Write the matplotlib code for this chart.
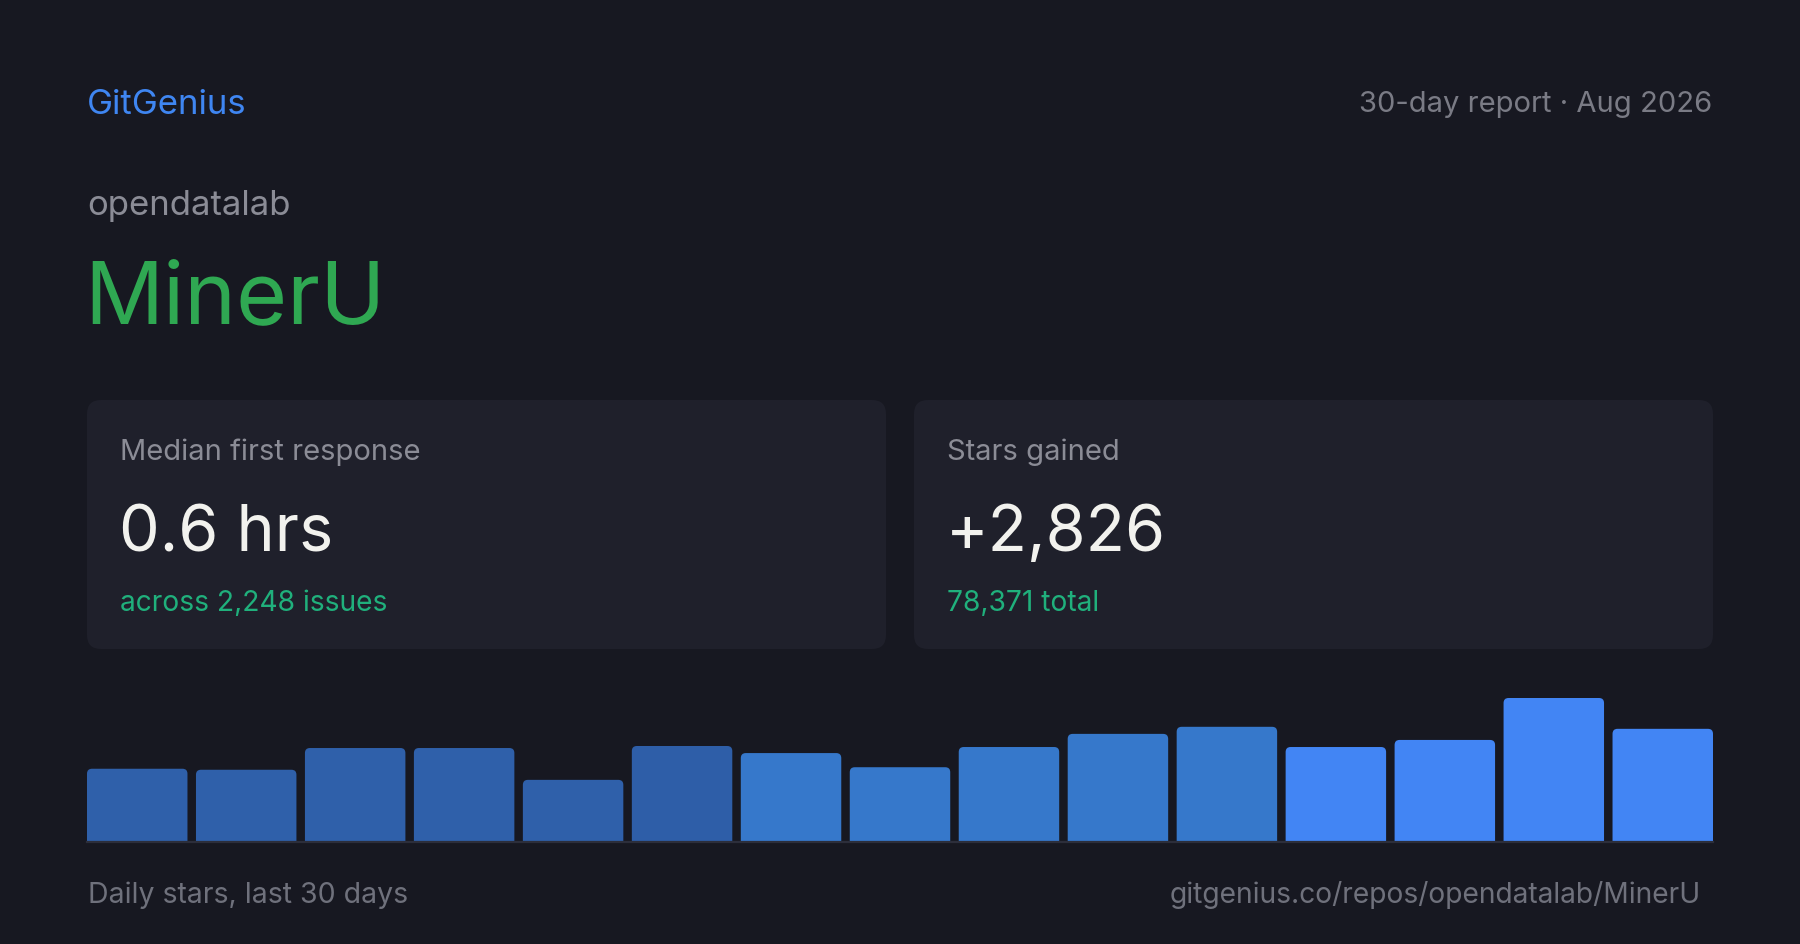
import matplotlib
matplotlib.use("Agg")
import matplotlib.pyplot as plt
from matplotlib.patches import FancyBboxPatch

plt.rcParams['font.family'] = ['Inter', 'DejaVu Sans']

# data
brand = "GitGenius"
report = "30-day report \u00b7 Aug 2026"
owner = "opendatalab"
repo = "MinerU"
card_labels = ["Median first response", "Stars gained"]
card_values = ["0.6 hrs", "+2,826"]
card_notes = ["across 2,248 issues", "78,371 total"]
daily_stars = [145, 143, 186, 186, 123, 190, 176, 148, 188, 214, 228, 188, 202, 285, 224]
bar_tier = [0, 0, 0, 0, 0, 1, 2, 2, 2, 2, 2, 3, 3, 3, 3]
footer_left = "Daily stars, last 30 days"
footer_right = "gitgenius.co/repos/opendatalab/MinerU"

BG = "#171821"
CARD = "#1f202b"
GRAY = "#8b8c96"
DIM = "#6f717c"
GREEN = "#20b07c"
tier_colors = ["#2f60aa", "#2e5ea8", "#3678cb", "#4285f4"]

W, H = 1800, 945
fig = plt.figure(figsize=(18, 9.45), dpi=100, facecolor=BG)

# canvas axes in pixel coordinates
bg = fig.add_axes([0, 0, 1, 1])
bg.set_xlim(0, W)
bg.set_ylim(H, 0)
bg.axis("off")
bg.set_facecolor(BG)

bg.text(87, 114, brand, color="#3f86f2", fontsize=25, va="baseline", ha="left")
bg.text(1712, 112, report, color="#7a7b85", fontsize=21, va="baseline", ha="right")
bg.text(87, 215, owner, color=GRAY, fontsize=25, va="baseline", ha="left")
bg.text(84, 323, repo, color="#2fa852", fontsize=63, va="baseline", ha="left")

card_x = [87, 914]
card_w = 799
for i in range(2):
    x0 = card_x[i]
    bg.add_patch(FancyBboxPatch((x0, 401), card_w, 249,
                                boxstyle="round,pad=0,rounding_size=14",
                                facecolor=CARD, edgecolor="none"))
    bg.text(x0 + 33, 460, card_labels[i], color=GRAY, fontsize=21, va="baseline")
    bg.text(x0 + 32, 551, card_values[i], color="#f2f2ee", fontsize=46.5, va="baseline")
    bg.text(x0 + 33, 611, card_notes[i], color=GREEN, fontsize=20.3, va="baseline")

bg.text(88, 903, footer_left, color=DIM, fontsize=20.5, va="baseline")
bg.text(1701, 903, footer_right, color=DIM, fontsize=20.3, va="baseline", ha="right")

# bar chart
base_px = 843
chart_h = 150
ax = fig.add_axes([87 / W, (H - base_px) / H, (1713 - 87) / W, chart_h / H])
ax.set_facecolor("none")
ax.axis("off")
w = 0.922
n = len(daily_stars)
ymax = max(daily_stars) * chart_h / 144
ax.set_xlim(-w / 2, n - 1 + w / 2)
ax.set_ylim(0, ymax)

bars = ax.bar(range(n), daily_stars, width=w,
              color=[tier_colors[t] for t in bar_tier])
x_unit = (1713 - 87) / (n - 1 + w)
aspect = (ymax / chart_h) * x_unit
r = 5 / x_unit
for b in bars:
    b.set_visible(False)
    p = FancyBboxPatch((b.get_x(), -10), b.get_width(), b.get_height() + 10,
                       boxstyle="round,pad=0,rounding_size=%f" % r,
                       mutation_aspect=aspect, facecolor=b.get_facecolor(),
                       edgecolor="none")
    ax.add_patch(p)
ax.axhline(0, color="#2c2e3b", linewidth=1.6, clip_on=False)

fig.savefig("out.png", dpi=100, facecolor=BG)
